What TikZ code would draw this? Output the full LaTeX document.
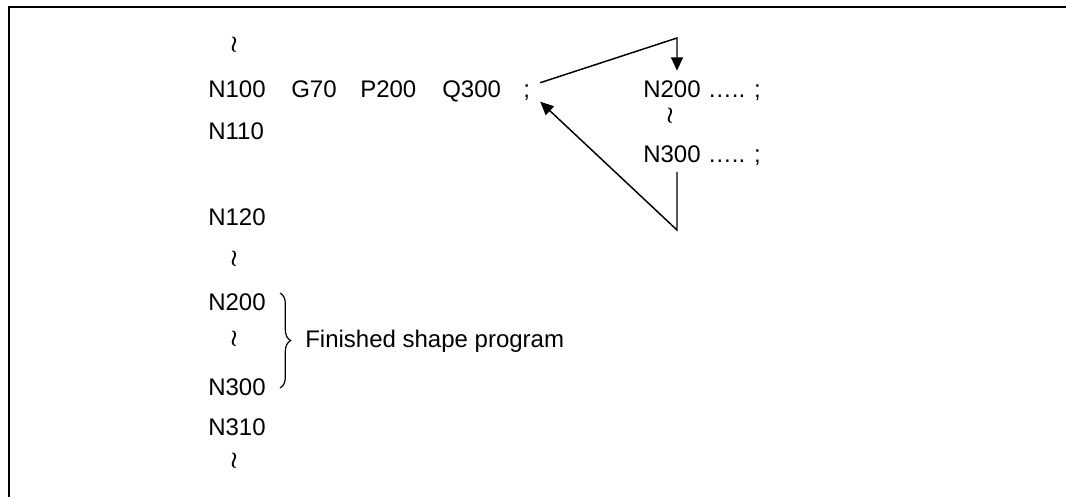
\documentclass[tikz,border=0pt]{standalone}
\usepackage{fontspec}
\setmainfont{Liberation Sans}
\usetikzlibrary{arrows.meta,decorations.pathreplacing}
\begin{document}
\begin{tikzpicture}[x=0.75pt, y=-0.75pt,
    code/.style={anchor=base west, inner sep=0pt, font=\fontsize{18}{22}\selectfont},
    gapmark/.style={inner sep=0pt, text height=7pt, text depth=1pt,
        font=\fontsize{17}{17}\selectfont\boldmath},
    flow/.style={line width=1.1pt, -{Triangle[length=10pt, width=9pt]}}]
    \useasboundingbox (0,0) rectangle (1066,497);
    % Frame
    \draw[line width=1.5pt] (9,497) -- (9,7.3) -- (1066,7.3);
    % Main program block
    \node[code] (n100) at (208,97) {N100};
    \node[code] (g70) at (291,97) {G70};
    \node[code] (p200) at (360,97) {P200};
    \node[code] (q300) at (442,97) {Q300};
    \node[code, inner xsep=7.5pt, inner ysep=1pt] (semi) at (513,97) {;};
    % Following blocks
    \foreach \lbl/\by in {N110/139, N120/225, N200/310, N300/395, N310/435}
        \node[code] (l\lbl) at (208,\by) {\lbl};
    % Gap marks
    \foreach \gy [count=\i] in {46,260,340,462}
        \node[gapmark] (gap\i) at (234,\gy) {$\wr$};
    % Brace over the finished shape program
    \draw[line width=0.9pt, decorate, decoration={brace, amplitude=8pt}]
        (280,293) -- (280,388);
    \node[code] (shape) at (305,347) {Finished shape program};
    % Called blocks
    \node[code] (r200) at (643,97) {N200};
    \node[code] (r200tail) at (r200.base east) {\ ….. ;};
    \node[gapmark] (gapr) at (670,117) {$\wr$};
    \node[code] (r300) at (643,162) {N300};
    \node[code] (r300tail) at (r300.base east) {\ ….. ;};
    % Jump and return
    \coordinate (top) at (677,38);
    \coordinate (bot) at (677,230);
    \draw[flow, shorten >=7pt] (semi.north east) -- (top) -- (top |- r200.north);
    \draw[flow, shorten <=7pt] (bot |- r300.south) -- (bot) -- (semi.south east);
\end{tikzpicture}
\end{document}
